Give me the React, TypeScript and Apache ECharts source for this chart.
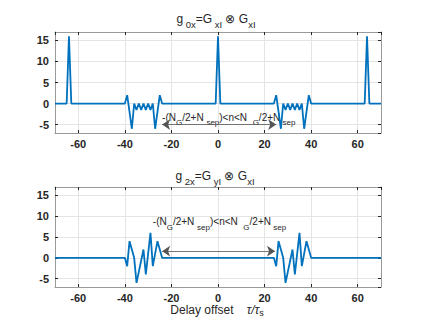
import React, { useEffect, useRef } from 'react';
import * as echarts from 'echarts';

// ---- data ----
const xMin = -70;
const xMax = 70;
const yMin = -7;
const yMax = 17;

// g0x = Gxl (x) Gxl : breakpoints of the line
const topPoints: [number, number][] = [
  [-70, 0], [-65, 0], [-64, 16], [-63, 0],
  [-40, 0], [-39, 2], [-38, -2], [-37, -6], [-36, 0], [-35, -1.5], [-34, 0], [-33, -1.5],
  [-32, 0], [-31, -1.5], [-30, 0], [-29, -1.5], [-28, 0], [-27, -6], [-26, -2], [-25, 2], [-24, 0],
  [-1, 0], [0, 16], [1, 0],
  [24, 0], [25, 2], [26, -2], [27, -6], [28, 0], [29, -1.5], [30, 0], [31, -1.5], [32, 0],
  [33, -1.5], [34, 0], [35, -1.5], [36, 0], [37, -6], [38, -2], [39, 2], [40, 0],
  [63, 0], [64, 16], [65, 0], [70, 0],
];

// g2x = Gyl (x) Gxl : breakpoints of the line
const bottomPoints: [number, number][] = [
  [-70, 0], [-40, 0], [-39, -2], [-38, 4], [-36, 0], [-35, -6], [-32, 2], [-31, -4],
  [-29, 6], [-28, -2], [-26, 4], [-24, 0],
  [24, 0], [25, -2], [26, 4], [28, 0], [29, -6], [32, 2], [33, -4],
  [35, 6], [36, -2], [38, 4], [40, 0], [70, 0],
];

const topArrow: [number, number][] = [[-24, -5], [25, -5]];
const bottomArrow: [number, number][] = [[-24, 1.6], [24.5, 1.6]];
const topLabelAt: [number, number] = [-24, -3.3];
const bottomLabelAt: [number, number] = [-28, 8.7];

const topTitle = '{m|g}{s| 0x}{m|=G}{s| xI}{m| \u2297 G}{s|xI}';
const bottomTitle = '{m|g}{s| 2x}{m|=G}{s| yI}{m| \u2297 G}{s|xI}';
const rangeText = '{m|-(N}{s|G}{m|/2+N }{s|sep}{m|)<n<N  }{s|G}{m|/2+N}{s| sep}';
const xName = '{m|Delay offset    }{i|\u03c4/\u03c4}{s|s}';

const FONT = '"Liberation Sans", Arial, Helvetica, sans-serif';
const LINE = '#0072BD';
const TXT = '#262626';
const BOX = '#9a9a9a';
const GRIDC = '#e4e4e4';

const grids = [
  { left: 55, top: 32, width: 326, height: 101 },
  { left: 55, top: 187, width: 326, height: 100 },
];

function xAxisFor(gridIndex: number, position: 'bottom' | 'top') {
  const main = position === 'bottom';
  return {
    type: 'value' as const,
    gridIndex,
    position,
    min: xMin,
    max: xMax,
    splitNumber: 7,
    axisLine: { show: true, onZero: false, lineStyle: { color: BOX, width: 1 } },
    axisTick: { show: true, inside: true, length: 3, lineStyle: { color: TXT, width: 1 } },
    axisLabel: {
      show: main,
      margin: 5,
      showMinLabel: false,
      showMaxLabel: false,
      color: TXT,
      fontSize: 11,
      fontWeight: 'bold' as const,
      fontFamily: FONT,
    },
    splitLine: { show: main, lineStyle: { color: GRIDC, width: 1 } },
  };
}

function yAxisFor(gridIndex: number, position: 'left' | 'right') {
  const main = position === 'left';
  return {
    type: 'value' as const,
    gridIndex,
    position,
    min: yMin,
    max: yMax,
    splitNumber: 5,
    axisLine: { show: true, onZero: false, lineStyle: { color: BOX, width: 1 } },
    axisTick: { show: true, inside: true, length: 3, lineStyle: { color: TXT, width: 1 } },
    axisLabel: {
      show: main,
      margin: 6,
      showMinLabel: false,
      showMaxLabel: false,
      color: TXT,
      fontSize: 11,
      fontWeight: 'bold' as const,
      fontFamily: FONT,
    },
    splitLine: { show: main, lineStyle: { color: GRIDC, width: 1 } },
  };
}

function arrowMark(pts: [number, number][]) {
  return {
    silent: true,
    symbol: ['arrow', 'arrow'],
    symbolSize: 8,
    label: { show: false },
    lineStyle: { color: '#555', width: 0.8, type: 'solid' as const },
    itemStyle: { color: '#111' },
    emphasis: { disabled: true },
    data: [[{ coord: pts[0] }, { coord: pts[1] }]],
  };
}

function richText(mainSize: number, subSize: number, subDrop: number) {
  const base = { fill: TXT, fontFamily: FONT };
  return {
    m: { ...base, fontSize: mainSize, lineHeight: mainSize + 2 },
    i: { ...base, fontSize: mainSize, lineHeight: mainSize + 2, fontStyle: 'italic' },
    s: { ...base, fontSize: subSize, lineHeight: subSize + 2, padding: [subDrop, 0, 0, 0] },
  };
}

export default function App() {
  const ref = useRef<HTMLDivElement>(null);

  useEffect(() => {
    if (!ref.current) return;
    const chart = echarts.init(ref.current, null, { renderer: 'svg' });
    const option: any = {
      animation: false,
      backgroundColor: '#ffffff',
      grid: grids,
      xAxis: [xAxisFor(0, 'bottom'), xAxisFor(1, 'bottom'), xAxisFor(0, 'top'), xAxisFor(1, 'top')],
      yAxis: [yAxisFor(0, 'left'), yAxisFor(1, 'left'), yAxisFor(0, 'right'), yAxisFor(1, 'right')],
      series: [
        {
          type: 'line',
          xAxisIndex: 0,
          yAxisIndex: 0,
          data: topPoints,
          showSymbol: false,
          lineStyle: { color: LINE, width: 1.8 },
          itemStyle: { color: LINE },
          markLine: arrowMark(topArrow),
        },
        {
          type: 'line',
          xAxisIndex: 1,
          yAxisIndex: 1,
          data: bottomPoints,
          showSymbol: false,
          lineStyle: { color: LINE, width: 1.8 },
          itemStyle: { color: LINE },
          markLine: arrowMark(bottomArrow),
        },
      ],
    };
    chart.setOption(option);

    const pTop = chart.convertToPixel({ seriesIndex: 0 }, topLabelAt) as number[];
    const pBot = chart.convertToPixel({ seriesIndex: 1 }, bottomLabelAt) as number[];

    chart.setOption({
      graphic: [
        {
          type: 'text', x: 216, y: 19, silent: true,
          style: { text: topTitle, align: 'center', verticalAlign: 'middle', rich: richText(12, 9.5, 11) },
        },
        {
          type: 'text', x: 215, y: 175.5, silent: true,
          style: { text: bottomTitle, align: 'center', verticalAlign: 'middle', rich: richText(12, 9.5, 11) },
        },
        {
          type: 'text', x: pTop[0], y: pTop[1], silent: true,
          style: { text: rangeText, align: 'left', verticalAlign: 'middle', rich: richText(10, 8, 11) },
        },
        {
          type: 'text', x: pBot[0], y: pBot[1], silent: true,
          style: { text: rangeText, align: 'left', verticalAlign: 'middle', rich: richText(10, 8, 11) },
        },
        {
          type: 'text', x: 217, y: 310, silent: true,
          style: { text: xName, align: 'center', verticalAlign: 'middle', rich: richText(12, 9, 6) },
        },
      ],
    });

    return () => chart.dispose();
  }, []);

  return (
    <div
      ref={ref}
      style={{ position: 'fixed', left: 0, top: 0, width: 421, height: 326, background: '#fff' }}
    />
  );
}
